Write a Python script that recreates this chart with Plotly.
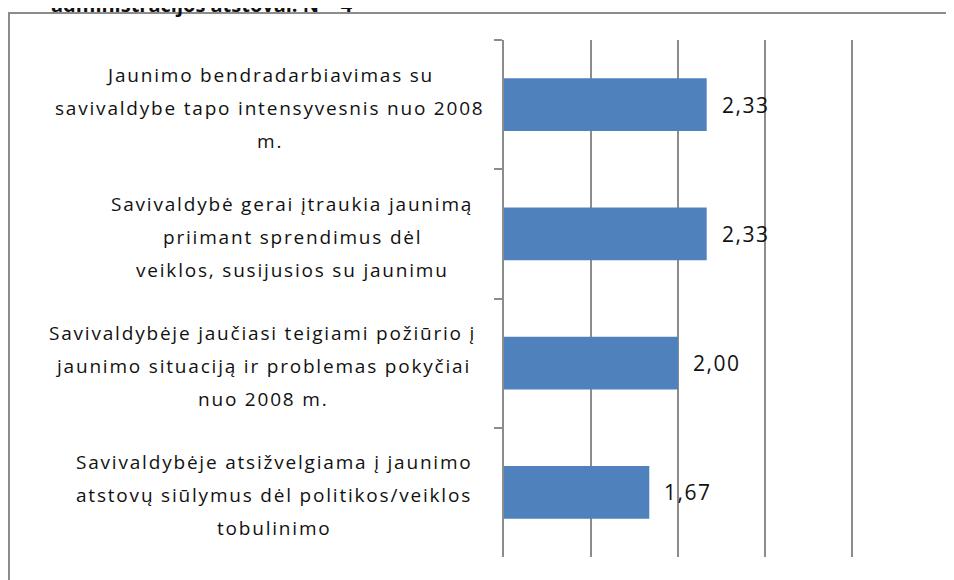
import plotly.graph_objects as go

# ---- data ----
categories = [
    "Jaunimo bendradarbiavimas su<br>savivaldybe tapo intensyvesnis nuo 2008<br>m.",
    "Savivaldybė gerai įtraukia jaunimą<br>priimant sprendimus dėl<br>veiklos, susijusios su jaunimu",
    "Savivaldybėje jaučiasi teigiami požiūrio į<br>jaunimo situaciją ir problemas pokyčiai<br>nuo 2008 m.",
    "Savivaldybėje atsižvelgiama į jaunimo<br>atstovų siūlymus dėl politikos/veiklos<br>tobulinimo",
]
values = [2.33, 2.33, 2.00, 1.67]
label_centers_px = [270, 292, 263, 274]   # horizontal centre of each label block (page pixels)
title_text = "administracijos atstovai. N = 4"

# ---- geometry (page pixels; the page body has an 8px margin) ----
OFF = 8
W, H = 954 - OFF, 580 - OFF
ML = 504 - OFF
MT = 40 - OFF
MR = W - (939 - OFF)
MB = H - (557 - OFF)
PW, PH = W - ML - MR, H - MT - MB

def px_x(px):
    return (px - OFF - ML) / PW

def px_y(py):
    return (H - MB - (py - OFF)) / PH

BAR = "#4F81BD"
GRID = "#8C8C8C"
TXT = "#111111"
FONT = "Open Sans"

def spaced(t, ls):
    return f'<span style="letter-spacing:{ls}px">{t}</span>'

fig = go.Figure()
fig.add_trace(go.Bar(
    x=values, y=categories, orientation="h",
    marker=dict(color=BAR, line=dict(width=0)),
    width=0.41, hoverinfo="skip",
))

annotations = []
# value labels
for c, v in zip(categories, values):
    annotations.append(dict(
        x=v, y=c, xref="x", yref="y", text=spaced(f"{v:.2f}".replace(".", ","), 1.5),
        showarrow=False, xanchor="left", yanchor="middle", xshift=13,
        font=dict(family=FONT, size=21, color=TXT),
    ))

# category labels, one annotation per line (for wider line spacing)
LINE = 33
for c, cx in zip(categories, label_centers_px):
    lines = c.split("<br>")
    n = len(lines)
    for i, ln in enumerate(lines):
        annotations.append(dict(
            x=px_x(cx), y=c, xref="paper", yref="y", text=spaced(ln, 1.8),
            showarrow=False, xanchor="center", yanchor="middle",
            yshift=-((i - (n - 1) / 2) * LINE) - 3,
            font=dict(family=FONT, size=19, color=TXT),
        ))

# cut-off title at top (only its lower part is visible, as in the reference)
annotations.append(dict(
    x=px_x(355), y=px_y(20), xref="paper", yref="paper", text=f"<b>{title_text}</b>",
    showarrow=False, xanchor="right", yanchor="bottom",
    font=dict(family=FONT, size=20, color=TXT),
))

fig.update_layout(
    width=W, height=H,
    margin=dict(l=ML, r=MR, t=MT, b=MB, pad=0),
    paper_bgcolor="white", plot_bgcolor="white",
    showlegend=False,
    annotations=annotations,
    shapes=[dict(
        type="rect", xref="paper", yref="paper",
        x0=px_x(9), x1=px_x(975), y0=px_y(13), y1=px_y(600),
        line=dict(color=GRID, width=2), fillcolor="rgba(0,0,0,0)", layer="below",
    )],
    xaxis=dict(
        range=[0, 5], tick0=0, dtick=1, showgrid=True, gridcolor=GRID, gridwidth=2,
        showticklabels=False, zeroline=False, showline=False, ticks="",
        fixedrange=True,
    ),
    yaxis=dict(
        type="category", categoryorder="array", categoryarray=categories,
        autorange="reversed", showticklabels=False, showgrid=False,
        showline=True, linecolor=GRID, linewidth=2,
        ticks="outside", tickson="boundaries", ticklen=8, tickcolor=GRID, tickwidth=2,
        zeroline=False, fixedrange=True,
    ),
    bargap=0.59,
)

fig.write_html("out.html")
